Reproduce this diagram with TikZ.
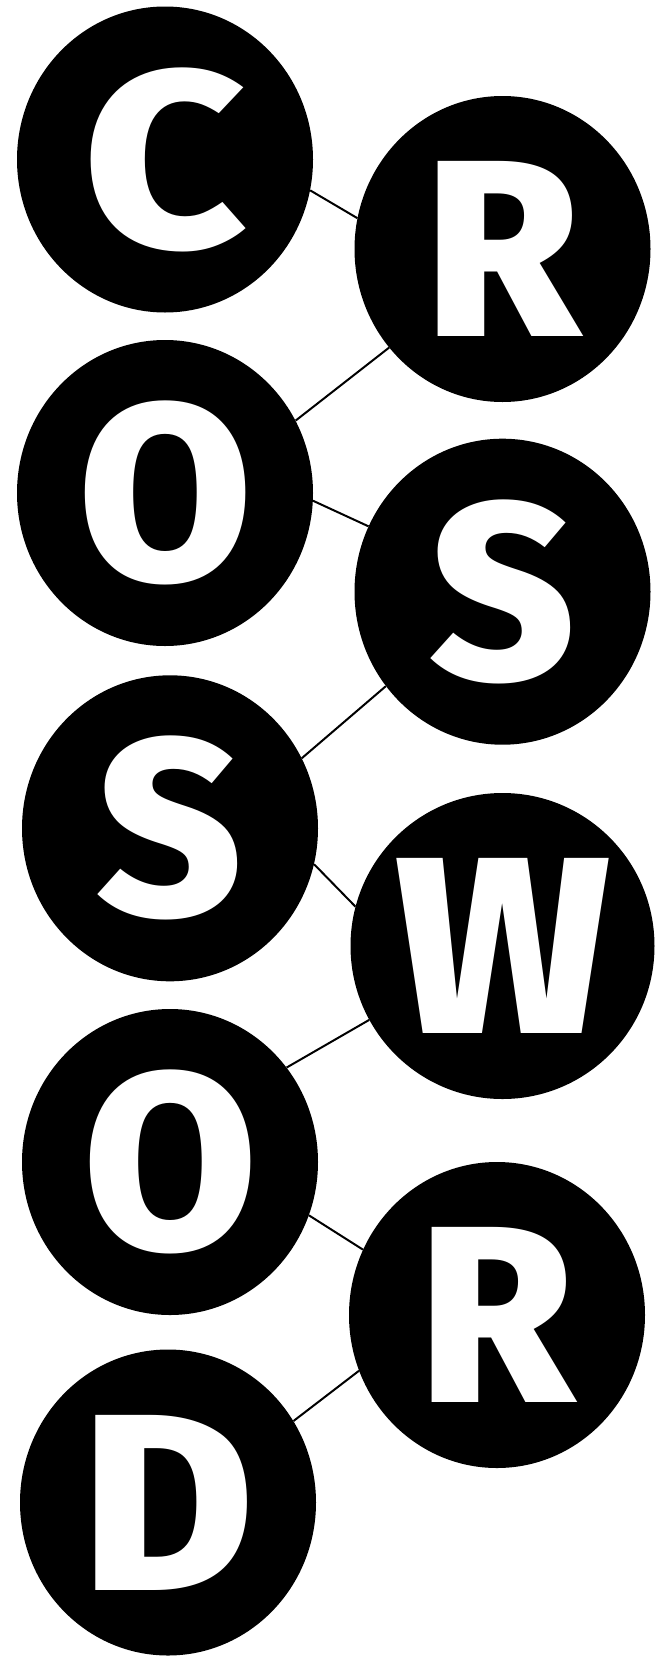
\documentclass[tikz,border=0pt]{standalone}
\usepackage{fontspec}
\newfontfamily\heavy{Fira Sans ExtraBold}
\usetikzlibrary{shapes.geometric}
\tikzset{
  ball/.style={ellipse, fill=black, minimum width=296pt, minimum height=306pt, inner sep=0pt,
    text=white, font=\heavy\fontsize{252}{252}\selectfont},
  link/.style={draw=black, line width=2pt}
}
\begin{document}
\begin{tikzpicture}[x=1pt,y=-1pt]
\useasboundingbox (0,0) rectangle (667,1657);
\node[ball] (C)  at (165,159.5)  {\scalebox{1.12}[1]{C}};
\node[ball] (R)  at (502.5,249)  {R};
\node[ball] (O)  at (165,493)    {O};
\node[ball] (S)  at (502.5,591.7){S};
\node[ball] (S2) at (170,828.3)  {S};
\node[ball] (W)  at (502.5,946)  {W};
\node[ball] (O2) at (170,1162)   {O};
\node[ball] (R2) at (497,1315)   {R};
\node[ball] (D)  at (168,1502.5) {\scalebox{1.05}[1]{D}};
\draw[link] (C.-12.5) -- (R.168.7);
\draw[link] (R.221.3) -- (O.29.4);
\draw[link] (O.-3) -- (S.154.6);
\draw[link] (S.219.2) -- (S2.28.6);
\draw[link] (S2.-14.6) -- (W.165.3);
\draw[link] (W.209.7) -- (O2.39.3);
\draw[link] (O2.-21.9) -- (R2.154.6);
\draw[link] (R2.202.9) -- (D.33.9);
\end{tikzpicture}
\end{document}
